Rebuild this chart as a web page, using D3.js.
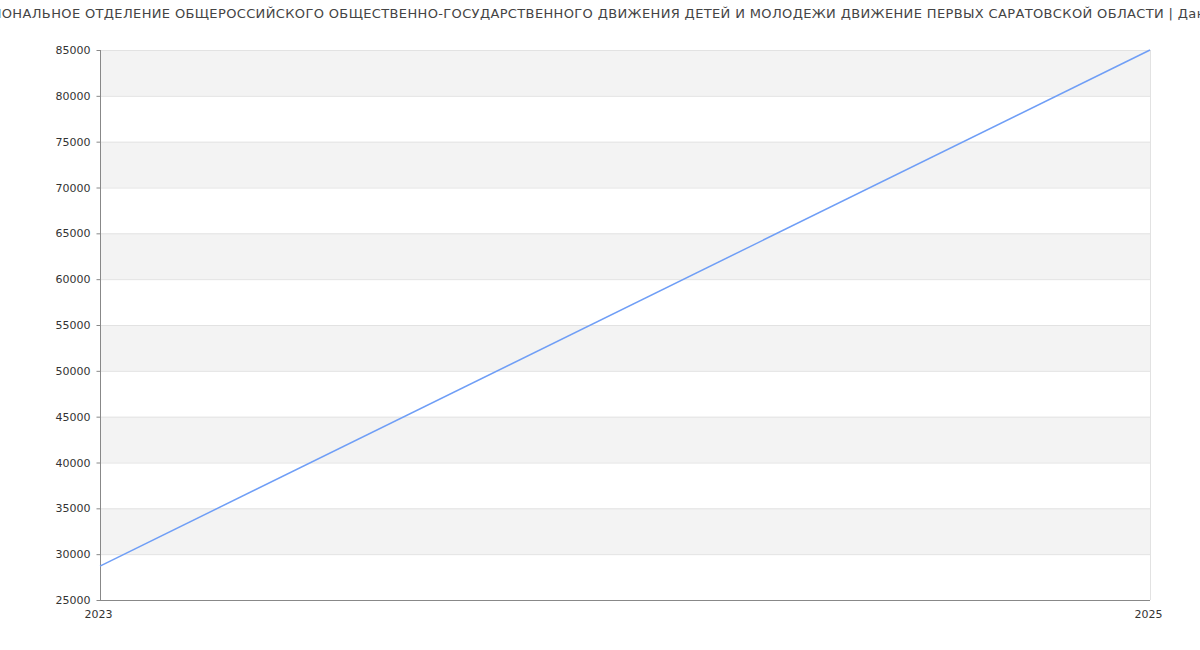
<!DOCTYPE html>
<html>
<head>
<meta charset="utf-8">
<script src="https://cdn.jsdelivr.net/npm/d3@7"></script>
<style>
  body { margin: 0; background: #fff; overflow: hidden; }
  text { font-family: "DejaVu Sans", sans-serif; }
</style>
</head>
<body>
<div id="chart"></div>
<script>
const titleText = "РЕГИОНАЛЬНОЕ ОТДЕЛЕНИЕ ОБЩЕРОССИЙСКОГО ОБЩЕСТВЕННО-ГОСУДАРСТВЕННОГО ДВИЖЕНИЯ ДЕТЕЙ И МОЛОДЕЖИ ДВИЖЕНИЕ ПЕРВЫХ САРАТОВСКОЙ ОБЛАСТИ | Данные"
const years = [2023, 2025]
const values = [28700, 85000]
const yTicks = [25000, 30000, 35000, 40000, 45000, 50000, 55000, 60000, 65000, 70000, 75000, 80000, 85000]

const params = { fullWidth: 1200, fullHeight: 650, left: 100, top: 50, right: 50, bottom: 50 }
const w = params.fullWidth - params.left - params.right
const h = params.fullHeight - params.top - params.bottom

const svg = d3.select("#chart").append("svg")
  .attr("width", params.fullWidth)
  .attr("height", params.fullHeight)

svg.append("text")
  .attr("x", params.fullWidth / 2)
  .attr("y", 18)
  .attr("text-anchor", "middle")
  .attr("font-size", "13px")
  .attr("letter-spacing", "0.36px")
  .attr("fill", "#444")
  .text(titleText)

const g = svg.append("g")
  .attr("transform", `translate(${params.left},${params.top})`)

const x = d3.scaleLinear().domain(d3.extent(years)).range([0, w])
const y = d3.scaleLinear().domain([yTicks[0], yTicks[yTicks.length - 1]]).range([h, 0])

// alternating bands, grey from the top
for (let i = 0; i < yTicks.length - 1; i++) {
  const lo = yTicks[i], hi = yTicks[i + 1]
  const fromTop = yTicks.length - 2 - i
  g.append("rect")
    .attr("x", 0)
    .attr("y", y(hi))
    .attr("width", w)
    .attr("height", y(lo) - y(hi))
    .attr("fill", fromTop % 2 === 0 ? "#f3f3f3" : "#fff")
}

// grid
g.selectAll("line.grid").data(yTicks).enter().append("line")
  .attr("class", "grid")
  .attr("x1", 0).attr("x2", w)
  .attr("y1", d => y(d) + 0.5).attr("y2", d => y(d) + 0.5)
  .attr("stroke", "#e2e2e2")
g.append("line")
  .attr("x1", w + 0.5).attr("x2", w + 0.5)
  .attr("y1", 0).attr("y2", h)
  .attr("stroke", "#e2e2e2")

// axes
const yAxis = g.append("g")
  .attr("transform", "translate(0.5,0)")
  .call(d3.axisLeft(y).tickValues(yTicks).tickSize(4).tickPadding(6).tickFormat(d => d))
yAxis.select(".domain").attr("stroke", "#888").attr("d", `M0,0V${h}`)
yAxis.selectAll(".tick line").attr("stroke", "#888")
yAxis.selectAll("text").attr("font-size", "11px").attr("fill", "#333").attr("font-family", "DejaVu Sans, sans-serif")

const xAxis = g.append("g")
  .attr("transform", `translate(0,${h + 0.5})`)
  .call(d3.axisBottom(x).tickValues(years).tickSize(0).tickPadding(10).tickFormat(d3.format("d")))
xAxis.select(".domain").attr("stroke", "#888").attr("d", `M0,0H${w}`)
xAxis.selectAll("text").attr("font-size", "11px").attr("fill", "#333").attr("font-family", "DejaVu Sans, sans-serif")
  .attr("dx", "-2px")

// line
g.append("path")
  .datum(years.map((d, i) => ({ x: d, y: values[i] })))
  .attr("fill", "none")
  .attr("stroke", "#6f9ef6")
  .attr("stroke-width", 1.5)
  .attr("d", d3.line().x(d => x(d.x)).y(d => y(d.y)))
</script>
</body>
</html>
